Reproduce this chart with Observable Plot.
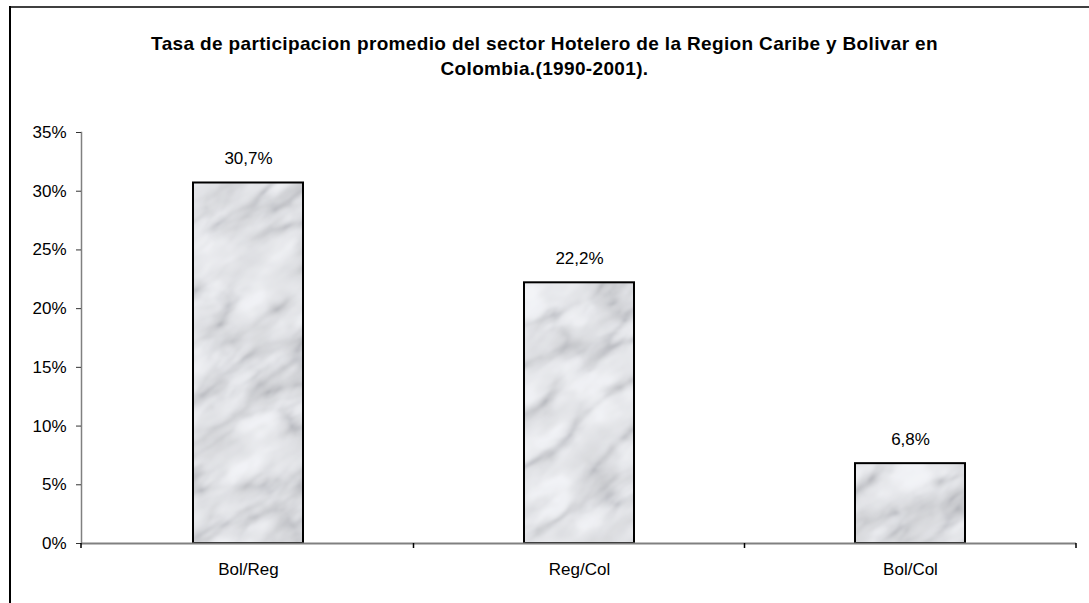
<!DOCTYPE html>
<html>
<head>
<meta charset="utf-8">
<script src="https://cdn.jsdelivr.net/npm/d3@7"></script>
<script src="https://cdn.jsdelivr.net/npm/@observablehq/plot@0.6"></script>
<style>
  html, body { margin: 0; padding: 0; background: #fff; }
  #page {
    position: relative; width: 1089px; height: 603px; overflow: hidden;
    font-family: "Liberation Sans", Arial, sans-serif; color: #000;
  }
  #border-top { position: absolute; left: 9px; right: 0; top: 6px; height: 2px; background: #404040; }
  #border-left { position: absolute; left: 9px; top: 6px; bottom: 0; width: 2px; background: #000; }
  #title {
    height: 120px; box-sizing: border-box; padding-top: 31px;
    text-align: center; font-weight: bold; font-size: 19px; line-height: 25px; letter-spacing: 0.35px;
  }
  #chart svg { display: block; overflow: visible; }
</style>
</head>
<body>
<div id="page">
  <div id="border-top"></div>
  <div id="border-left"></div>
  <div id="title">Tasa de participacion promedio del sector Hotelero de la Region Caribe y Bolivar en<br>Colombia.(1990-2001).</div>
  <div id="chart"></div>
</div>
<script>
// Average participation rates of the hotel sector
const categories = ["Bol/Reg", "Reg/Col", "Bol/Col"];
const values = [0.307, 0.222, 0.068];
const yTicks = [0, 0.05, 0.10, 0.15, 0.20, 0.25, 0.30, 0.35];

const data = categories.map((cat, i) => ({cat, value: values[i]}));

// Spanish-style decimal comma for the value labels
const esFormat = d3.formatLocale({decimal: ",", thousands: ".", grouping: [3], currency: ["", "$"]}).format(".1%");

const chart = Plot.plot({
  width: 1089,
  height: 483,
  marginLeft: 81,
  marginRight: 13,
  marginTop: 12,
  marginBottom: 60,
  style: {fontFamily: "'Liberation Sans', Arial, sans-serif", fontSize: "17px", color: "#000", background: "transparent", overflow: "visible"},
  x: {domain: categories, paddingInner: 0.668, paddingOuter: 0.334, label: null},
  y: {domain: [0, 0.35], label: null},
  marks: [
    Plot.barY(data, {x: "cat", y: "value", fill: "url(#marble)"}),
    Plot.barY(data, {x: "cat", y: "value", fill: "none", stroke: "#000", strokeWidth: 2}),
    Plot.frame({anchor: "left", stroke: "#808080", strokeWidth: 1.5}),
    Plot.ruleY([0], {stroke: "#808080", strokeWidth: 2}),
    Plot.axisY({ticks: yTicks, tickSize: 5, tickPadding: 10, stroke: "#333", tickFormat: d => Math.round(d * 100) + "%", label: null}),
    Plot.axisX({tickSize: 0, tickPadding: 19, label: null}),
    Plot.text(data, {x: "cat", y: "value", text: d => esFormat(d.value), dy: -24, fontSize: 17})
  ]
});

document.getElementById("chart").appendChild(chart);

// Marble texture used as the bar fill: soft grey clouds with darker veins
const svg = d3.select(chart);
const W = 2200, H = 2200;
const defs = svg.insert("defs", ":first-child");
const filt = defs.append("filter").attr("id", "marbleNoise")
  .attr("filterUnits", "userSpaceOnUse").attr("x", 0).attr("y", 0).attr("width", W).attr("height", H);
// veins
filt.append("feTurbulence").attr("type", "turbulence").attr("baseFrequency", "0.009 0.024")
  .attr("numOctaves", 4).attr("seed", 5).attr("result", "t");
filt.append("feColorMatrix").attr("in", "t").attr("type", "matrix")
  .attr("values", "1 0 0 0 0  1 0 0 0 0  1 0 0 0 0  0 0 0 0 1").attr("result", "g");
const ct = filt.append("feComponentTransfer").attr("in", "g").attr("result", "veins");
ct.append("feFuncR").attr("type", "table").attr("tableValues", "0.50 0.68 0.80 0.86 0.88 0.89 0.90 0.91");
ct.append("feFuncG").attr("type", "table").attr("tableValues", "0.51 0.69 0.81 0.87 0.89 0.90 0.91 0.92");
ct.append("feFuncB").attr("type", "table").attr("tableValues", "0.55 0.72 0.84 0.90 0.92 0.93 0.94 0.94");
// clouds
filt.append("feTurbulence").attr("type", "fractalNoise").attr("baseFrequency", "0.02 0.035")
  .attr("numOctaves", 3).attr("seed", 19).attr("result", "n");
filt.append("feColorMatrix").attr("in", "n").attr("type", "matrix")
  .attr("values", "1 0 0 0 0  1 0 0 0 0  1 0 0 0 0  0 0 0 0 1").attr("result", "ng");
const ct2 = filt.append("feComponentTransfer").attr("in", "ng").attr("result", "clouds");
["feFuncR", "feFuncG", "feFuncB"].forEach(f =>
  ct2.append(f).attr("type", "table").attr("tableValues", "0.78 0.84 0.92 1.06 1.1"));
filt.append("feBlend").attr("in", "veins").attr("in2", "clouds").attr("mode", "multiply").attr("result", "m");
filt.append("feGaussianBlur").attr("in", "m").attr("stdDeviation", 1.1);
// one large tile, rotated about the plot centre so the bars sit well inside it
const pat = defs.append("pattern").attr("id", "marble").attr("patternUnits", "userSpaceOnUse")
  .attr("x", 0).attr("y", 0).attr("width", W).attr("height", H)
  .attr("patternTransform", "rotate(-35 545 240) translate(-700 -850)");
pat.append("rect").attr("width", W).attr("height", H).attr("fill", "#fff").attr("filter", "url(#marbleNoise)");

// Excel-style category boundary ticks below the baseline
const xs = chart.scale("x");
const ys = chart.scale("y");
const bw = xs.bandwidth;
const centers = categories.map(c => xs.apply(c) + bw / 2);
const bounds = [xs.range[0]];
for (let i = 1; i < centers.length; i++) bounds.push((centers[i - 1] + centers[i]) / 2);
bounds.push(xs.range[1]);
const y0 = ys.apply(0);
svg.append("g").attr("stroke", "#000").attr("stroke-width", 1.5)
  .selectAll("line").data(bounds).join("line")
  .attr("x1", d => d).attr("x2", d => d).attr("y1", y0).attr("y2", y0 + 5);
</script>
</body>
</html>
